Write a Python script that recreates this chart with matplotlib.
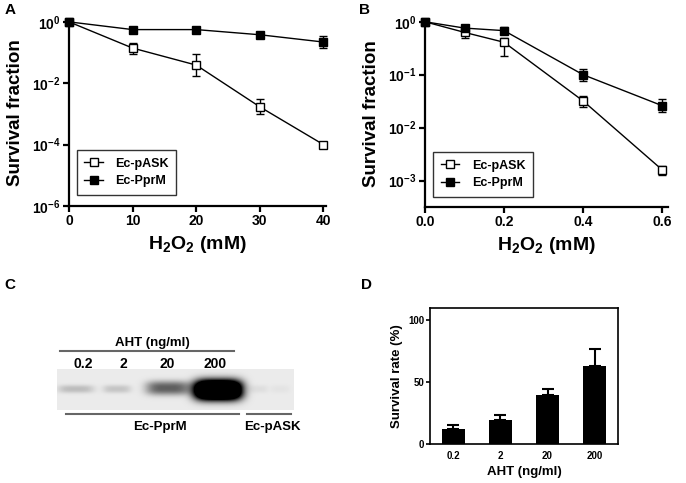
import matplotlib
matplotlib.use("Agg")
import matplotlib.pyplot as plt
import matplotlib.ticker as tick
import numpy as np

plt.rcParams['font.family'] = ['Liberation Sans', 'DejaVu Sans']
plt.rcParams['mathtext.fontset'] = 'custom'
plt.rcParams['mathtext.rm'] = 'Liberation Sans:bold'
plt.rcParams['mathtext.bf'] = 'Liberation Sans:bold'
plt.rcParams['mathtext.it'] = 'Liberation Sans:bold'
plt.rcParams['mathtext.default'] = 'bf'

# panel A data (survival vs H2O2 mM)
h2o2_a = [0, 10, 20, 30, 40]
pask_a = [1.0, 0.14, 0.039, 0.0017, 1.0e-4]
pask_a_low = [0.95, 0.09, 0.017, 0.00096, 0.9e-4]
pask_a_high = [1.05, 0.21, 0.093, 0.003, 1.1e-4]
pprm_a = [1.0, 0.56, 0.56, 0.38, 0.22]
pprm_a_low = [0.95, 0.5, 0.44, 0.32, 0.14]
pprm_a_high = [1.05, 0.62, 0.7, 0.44, 0.35]

# panel B data
h2o2_b = [0, 0.1, 0.2, 0.4, 0.6]
pask_b = [1.0, 0.63, 0.41, 0.032, 0.0016]
pask_b_low = [0.95, 0.5, 0.23, 0.024, 0.0013]
pask_b_high = [1.05, 0.76, 0.5, 0.039, 0.0019]
pprm_b = [1.0, 0.76, 0.68, 0.10, 0.026]
pprm_b_low = [0.95, 0.68, 0.6, 0.075, 0.020]
pprm_b_high = [1.05, 0.85, 0.78, 0.13, 0.034]

# panel C: western blot band intensities
aht_lanes = ['0.2', '2', '20', '200']
band_intensity = [0.18, 0.15, 0.55, 2.2, 0.05, 0.03]

# panel D data
aht_labels = ['0.2', '2', '20', '200']
survival_rate = [12.2, 19.2, 40.0, 63.2]
survival_err = [3.2, 4.1, 4.3, 13.3]

W, H = 686, 483
fig = plt.figure(figsize=(W / 100, H / 100), dpi=100)


def px_axes(x0, y0, x1, y1):
    # axes from pixel box (top-left origin)
    return fig.add_axes([x0 / W, 1 - y1 / H, (x1 - x0) / W, (y1 - y0) / H])


def yerr(y, lo, hi):
    y = np.array(y)
    return [y - np.array(lo), np.array(hi) - y]


def style_log_axes(ax):
    for s in ['top', 'right']:
        ax.spines[s].set_visible(False)
    for s in ['left', 'bottom']:
        ax.spines[s].set_linewidth(1.6)
    ax.tick_params(direction='out', length=4, width=1.6, labelsize=10, pad=2)
    ax.yaxis.set_minor_locator(tick.NullLocator())
    for lab in ax.get_xticklabels() + ax.get_yticklabels():
        lab.set_fontweight('bold')
    ax.set_ylabel('Survival fraction', fontsize=13.5, fontweight='bold', labelpad=6)
    ax.set_xlabel(r'H$_2$O$_2$ (mM)', fontsize=14, fontweight='bold')


def plot_curves(ax, x, ya, ya_lo, ya_hi, yb, yb_lo, yb_hi, anchor):
    ax.errorbar(x, ya, yerr=yerr(ya, ya_lo, ya_hi), color='black', lw=1,
                marker='s', ms=6, mfc='white', mec='black', mew=1,
                capsize=3, elinewidth=1, label='Ec-pASK', clip_on=False, zorder=3)
    ax.errorbar(x, yb, yerr=yerr(yb, yb_lo, yb_hi), color='black', lw=1,
                marker='s', ms=6, mfc='black', mec='black', mew=1,
                capsize=3, elinewidth=1, label='Ec-PprM', clip_on=False, zorder=4)
    handles, labels = ax.get_legend_handles_labels()
    handles = [h[0] for h in handles]
    leg = ax.legend(handles, labels, loc='lower left', bbox_to_anchor=anchor,
                    borderaxespad=0, prop=dict(size=9, weight='bold'),
                    frameon=True, fancybox=False, handlelength=1.5,
                    borderpad=0.6, labelspacing=0.45, handletextpad=1.0)
    leg.get_frame().set_edgecolor('black')
    leg.get_frame().set_linewidth(1.0)
    return leg


def pow_fmt(v, _):
    return r'$\mathbf{10^{%d}}$' % int(round(np.log10(v)))


# ---- panel A ----
axA = px_axes(69, 20, 326, 206)
plot_curves(axA, h2o2_a, pask_a, pask_a_low, pask_a_high,
            pprm_a, pprm_a_low, pprm_a_high, (0.03, 0.06))
axA.set_yscale('log')
axA.set_ylim(1e-6, 1.15)
axA.set_xlim(0, 40.4)
axA.yaxis.set_major_locator(tick.FixedLocator([1e-6, 1e-4, 1e-2, 1]))
axA.yaxis.set_major_formatter(tick.FuncFormatter(pow_fmt))
axA.xaxis.set_major_locator(tick.FixedLocator([0, 10, 20, 30, 40]))
style_log_axes(axA)

# ---- panel B ----
axB = px_axes(425, 20, 668, 207)
plot_curves(axB, h2o2_b, pask_b, pask_b_low, pask_b_high,
            pprm_b, pprm_b_low, pprm_b_high, (0.033, 0.054))
axB.set_yscale('log')
axB.set_ylim(10 ** -3.5, 1.08)
axB.set_xlim(0, 0.615)
axB.yaxis.set_major_locator(tick.FixedLocator([1e-3, 1e-2, 1e-1, 1]))
axB.yaxis.set_major_formatter(tick.FuncFormatter(pow_fmt))
axB.xaxis.set_major_locator(tick.FixedLocator([0, 0.2, 0.4, 0.6]))
axB.xaxis.set_major_formatter(tick.FormatStrFormatter('%.1f'))
style_log_axes(axB)

# ---- panel C: blot ----
axC = fig.add_axes([0, 0, 0.5, (H - 260) / H])
axC.set_xlim(0, 343)
axC.set_ylim(483, 260)
axC.axis('off')

lane_x = [76, 117, 168, 218, 258, 280]
lane_wx = [18, 14, 22, 24, 10, 10]
lane_wy = [4, 4, 7, 10, 4, 4]
lane_y = [389, 389, 388, 390, 389, 389]
gx = np.arange(57, 294) + 0.5
gy = np.arange(369, 410) + 0.5
XX, YY = np.meshgrid(gx, gy)
blot = np.full(XX.shape, 0.08)
for cx, cy, wx, wy, inten in zip(lane_x, lane_y, lane_wx, lane_wy, band_intensity):
    blot += inten * np.exp(-((XX - cx) / wx) ** 4 - (np.abs(YY - cy) / wy) ** 2.5)
blot = np.clip(blot, 0, 1)
axC.imshow(blot, cmap='gray_r', vmin=0, vmax=1, extent=(57, 294, 410, 369),
           aspect='auto', interpolation='bilinear')

line_col = '#666666'
axC.plot([60, 234], [351, 351], color=line_col, lw=1.5)
axC.plot([66, 239], [414, 414], color=line_col, lw=1.5)
axC.plot([247, 291], [414, 414], color=line_col, lw=1.5)
axC.text(152, 343, 'AHT (ng/ml)', ha='center', va='center', fontsize=9.5, fontweight='bold')
lane_label_x = [83, 123, 167, 215]
for lab, cx in zip(aht_lanes, lane_label_x):
    axC.text(cx, 364, lab, ha='center', va='center', fontsize=10, fontweight='bold')
axC.text(160, 427, 'Ec-PprM', ha='center', va='center', fontsize=9.5, fontweight='bold')
axC.text(272, 427, 'Ec-pASK', ha='center', va='center', fontsize=9.5, fontweight='bold')

# ---- panel D ----
axD = px_axes(430, 308, 618, 444)
xpos = np.arange(len(aht_labels))
axD.bar(xpos, survival_rate, width=0.48, color='black',
        yerr=[np.zeros(len(survival_err)), survival_err],
        error_kw=dict(ecolor='black', elinewidth=1.5, capsize=4, capthick=1.5))
axD.set_xlim(-0.5, 3.5)
axD.set_ylim(0, 110)
axD.set_yticks([0, 50, 100])
axD.set_xticks(xpos)
axD.set_xticklabels(aht_labels)
for s in axD.spines.values():
    s.set_linewidth(1.2)
axD.tick_params(axis='y', direction='out', length=3, width=1.2, labelsize=7, pad=1)
axD.tick_params(axis='x', length=0, labelsize=7, pad=5)
for lab in axD.get_xticklabels() + axD.get_yticklabels():
    lab.set_fontweight('bold')
axD.set_ylabel('Survival rate (%)', fontsize=9.5, fontweight='bold', labelpad=4)
axD.set_xlabel('AHT (ng/ml)', fontsize=9.5, fontweight='bold', labelpad=4)

# panel letters
for letter, (lx, ly) in zip('ABCD', [(10, 10), (365, 10), (10, 285), (366, 285)]):
    fig.text(lx / W, 1 - ly / H, letter, ha='center', va='center',
             fontsize=11, fontweight='bold')

fig.savefig('out.png', dpi=100)
